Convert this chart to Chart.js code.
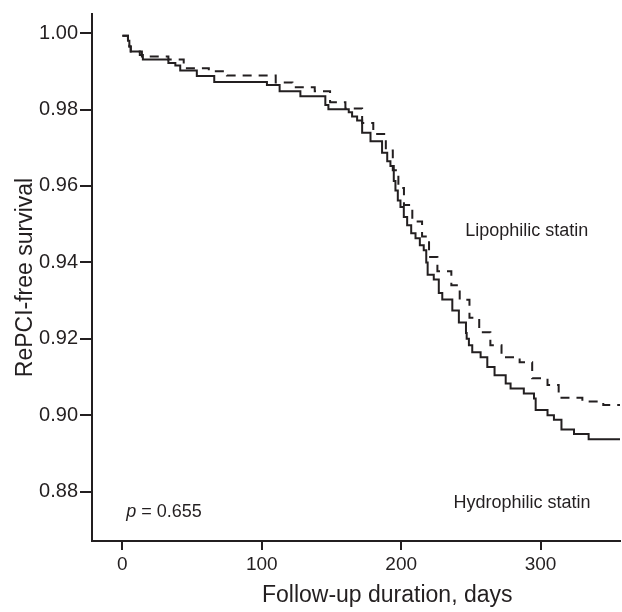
<!DOCTYPE html>
<html>
<head>
<meta charset="utf-8">
<script src="https://cdn.jsdelivr.net/npm/chart.js@4"></script>
<style>
  html, body { margin: 0; padding: 0; background: #fff; }
  #wrap { width: 622px; height: 612px; }
</style>
</head>
<body>
<div id="wrap"><canvas id="kmChart" width="622" height="612"></canvas></div>
<script>
// Kaplan-Meier step points: day of event and survival after it
const hydroDays = [0, 4, 5, 6, 12.5, 14.7, 33, 38, 41.5, 53.4, 65.9, 103.7, 112.8, 127.7, 145.6, 147.8,
  162.4, 164.8, 168.4, 172, 178, 186.3, 190, 192.3, 194.7, 195.9, 197.6, 199.5, 201.9, 204.3, 207.2,
  210.3, 213.4, 216.2, 218, 219, 223.4, 227, 229.5, 236.7, 241.4, 246.5, 247, 248.6, 251, 257, 261.8,
  267, 275, 278.5, 288, 295.3, 296.5, 305, 309.6, 315, 324, 334.5, 357];
const hydroSurv = [0.9993, 0.9980, 0.9965, 0.9952, 0.9943, 0.9931, 0.9922, 0.9915, 0.9902, 0.9888, 0.9872, 0.9864, 0.9848, 0.9835, 0.9812, 0.9801,
  0.9793, 0.9782, 0.9771, 0.9739, 0.9717, 0.9687, 0.9665, 0.9652, 0.9613, 0.9588, 0.9562, 0.9545, 0.9519, 0.9497, 0.9476,
  0.9463, 0.9445, 0.9432, 0.9400, 0.9368, 0.9355, 0.9320, 0.9303, 0.9274, 0.9243, 0.9215, 0.9200, 0.9183, 0.9165, 0.9152, 0.9126,
  0.9105, 0.9083, 0.9070, 0.9057, 0.9044, 0.9014, 0.9000, 0.8988, 0.8963, 0.8951, 0.8937, 0.8937];

const lipoDays = [0, 4, 5, 6, 14, 33, 44, 62, 75, 110, 122, 138, 149, 160, 172, 180, 189, 194, 198, 202,
  208, 215, 220, 226, 236, 242, 249, 256, 264, 272, 285, 294, 305, 313, 330, 345, 357];
const lipoSurv = [0.9993, 0.9980, 0.9965, 0.9952, 0.9939, 0.9931, 0.9908, 0.9900, 0.9889, 0.9871, 0.9858, 0.9848, 0.9819, 0.9803, 0.9765, 0.9736, 0.9693, 0.9641, 0.9595, 0.9550,
  0.9507, 0.9468, 0.9414, 0.9377, 0.9340, 0.9302, 0.9255, 0.9217, 0.9183, 0.9152, 0.9139, 0.9097, 0.9079, 0.9046, 0.9036, 0.9027, 0.9027];

const xTicks = [0, 100, 200, 300];
const yTicks = [0.88, 0.90, 0.92, 0.94, 0.96, 0.98, 1.00];

const ink = '#231f20';
const fontFam = '"Liberation Sans", Arial, sans-serif';

// text labels placed in data coordinates
const notes = [
  { text: 'Lipophilic statin', x: 246, y: 0.9481 },
  { text: 'Hydrophilic statin', x: 237.5, y: 0.8770 }
];

const notePlugin = {
  id: 'notes',
  afterDraw(chart) {
    const ctx = chart.ctx;
    const xs = chart.scales.x, ys = chart.scales.y;
    ctx.save();
    ctx.fillStyle = ink;
    ctx.textBaseline = 'middle';
    ctx.textAlign = 'left';
    ctx.font = '18px ' + fontFam;
    notes.forEach(n => ctx.fillText(n.text, xs.getPixelForValue(n.x), ys.getPixelForValue(n.y)));
    // p value, italic p
    let px = xs.getPixelForValue(2.7), py = ys.getPixelForValue(0.8747);
    ctx.font = 'italic 18px ' + fontFam;
    ctx.fillText('p', px, py);
    px += ctx.measureText('p ').width;
    ctx.font = '18px ' + fontFam;
    ctx.fillText('= 0.655', px, py);
    // x axis title sits a bit right of the plot centre in the original
    ctx.font = '23px ' + fontFam;
    ctx.textAlign = 'center';
    ctx.fillText('Follow-up duration, days', xs.getPixelForValue(190), xs.bottom - 16);
    ctx.restore();
  }
};

const toPts = (days, surv) => days.map((d, i) => ({ x: d, y: surv[i] }));

new Chart(document.getElementById('kmChart').getContext('2d'), {
  type: 'scatter',
  data: {
    datasets: [
      {
        label: 'Hydrophilic statin',
        data: toPts(hydroDays, hydroSurv),
        showLine: true,
        stepped: true,
        borderColor: ink,
        borderWidth: 2,
        pointRadius: 0,
        fill: false
      },
      {
        label: 'Lipophilic statin',
        data: toPts(lipoDays, lipoSurv),
        showLine: true,
        stepped: true,
        borderColor: ink,
        borderWidth: 2,
        borderDash: [9, 7],
        pointRadius: 0,
        fill: false
      }
    ]
  },
  options: {
    responsive: false,
    animation: false,
    layout: { padding: { left: 0, right: 2, top: 8, bottom: 0 } },
    plugins: {
      legend: { display: false },
      tooltip: { enabled: false }
    },
    scales: {
      x: {
        type: 'linear',
        min: -21.8,
        max: 357,
        afterBuildTicks: s => { s.ticks = xTicks.map(v => ({ value: v })); },
        afterFit: s => { s.height = 71; },
        grid: { drawOnChartArea: false, drawTicks: true, tickLength: 9, color: ink, lineWidth: 2 },
        border: { display: true, color: ink, width: 2 },
        ticks: { color: ink, font: { family: fontFam, size: 19 }, padding: 3 },
        title: { display: false }
      },
      y: {
        type: 'linear',
        min: 0.8671,
        max: 1.005,
        afterBuildTicks: s => { s.ticks = yTicks.map(v => ({ value: v })); },
        afterFit: s => { s.width = 92; },
        grid: { drawOnChartArea: false, drawTicks: true, tickLength: 12, color: ink, lineWidth: 2 },
        border: { display: true, color: ink, width: 2 },
        ticks: { color: ink, font: { family: fontFam, size: 20 }, padding: 2, callback: v => v.toFixed(2) },
        title: { display: true, text: 'RePCI-free survival', color: ink, font: { family: fontFam, size: 23 }, padding: { top: 12, bottom: 0 } }
      }
    }
  },
  plugins: [notePlugin]
});
</script>
</body>
</html>
